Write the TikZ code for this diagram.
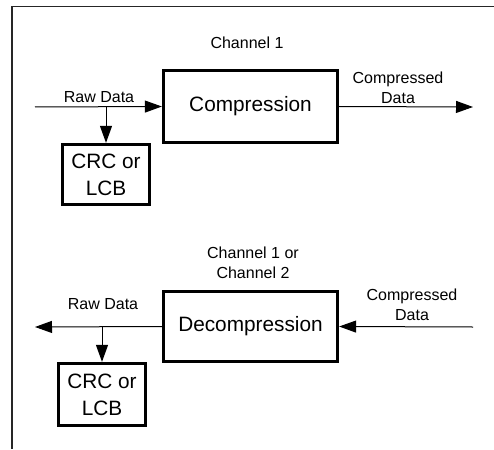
\documentclass[tikz,border=0pt]{standalone}
\usepackage{fontspec}
\setmainfont{Liberation Sans}
\usetikzlibrary{arrows.meta}
\begin{document}
\begin{tikzpicture}[x=1pt, y=-1pt,
    box/.style={draw, line width=3.3pt, inner sep=0pt, align=center, font=\fontsize{20.8}{27}\selectfont},
    lbl/.style={inner sep=0pt, align=center, font=\fontsize{16}{20}\selectfont},
    flow/.style={line width=1pt, -{Triangle[length=17pt, width=12pt]}}]
    \useasboundingbox (0,0) rectangle (494,449);
    \draw[line width=1.3pt, color=black!85] (494,6.5) -- (12,6.5) -- (12,449);
    % channel 1: compression
    \node[box, minimum width=174pt, minimum height=72pt] (comp) at (250.5,106.5) {Compression};
    \node[box, minimum width=87pt, minimum height=60pt] (crcA) at (106,174.5) {CRC or\\LCB};
    \coordinate (rawin) at (35,107);
    \coordinate (cmpout) at (473,107);
    \draw[flow] (rawin) -- (comp.west);
    \draw[flow] (crcA.north |- rawin) -- (crcA.north);
    \draw[flow] (comp.east) -- (cmpout);
    \node[lbl] (chA) at (247,43) {Channel 1};
    \node[lbl] (rawA) at (99,97) {Raw Data};
    \node[lbl] (cdA) at (398,88) {Compressed\\Data};
    % channel 1 or 2: decompression
    \node[box, minimum width=174pt, minimum height=70pt] (decomp) at (250.5,326.5) {Decompression};
    \node[box, minimum width=87pt, minimum height=62pt] (crcB) at (102,394.5) {CRC or\\LCB};
    \coordinate (rawout) at (35,327);
    \coordinate (cmpin) at (473,327);
    \draw[flow] (decomp.west) -- (rawout);
    \draw[flow] (crcB.north |- rawout) -- (crcB.north);
    \draw[flow] (cmpin) -- (decomp.east);
    \node[lbl] (chB) at (253,262.5) {Channel 1 or\\Channel 2};
    \node[lbl] (rawB) at (103,304) {Raw Data};
    \node[lbl] (cdB) at (412,305) {Compressed\\Data};
\end{tikzpicture}
\end{document}
